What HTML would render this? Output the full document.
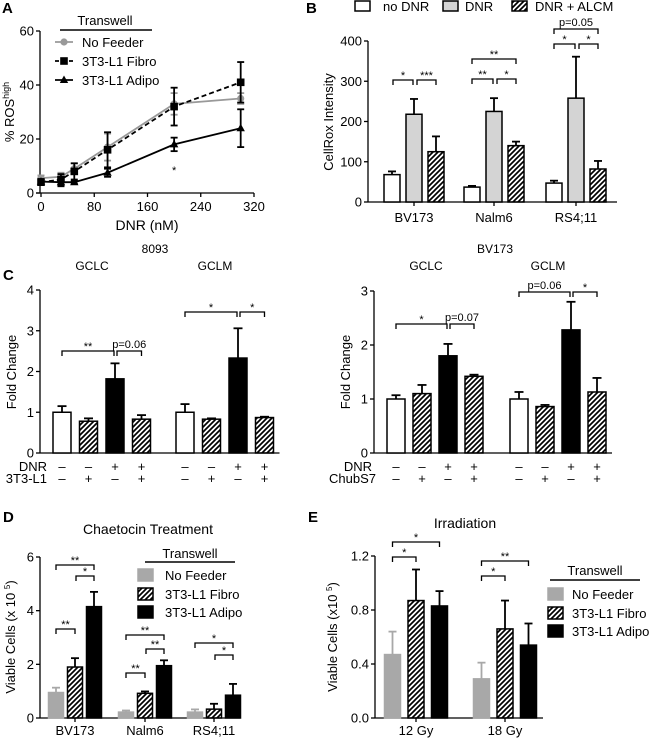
<!DOCTYPE html>
<html><head><meta charset="utf-8"><style>
html,body{margin:0;padding:0;background:#fff;}
svg{display:block;font-family:"Liberation Sans",Arial,sans-serif;}
</style></head><body>
<svg id="fig" width="650" height="739" viewBox="0 0 650 739" xmlns="http://www.w3.org/2000/svg">
<defs>
<pattern id="hatch" patternUnits="userSpaceOnUse" width="5" height="5">
<path d="M-1,1 l2,-2 M0,5 l5,-5 M4,6 l2,-2" stroke="#000" stroke-width="1.7"/>
</pattern>
</defs>
</svg>
<script>
// Panel A data
const aDose=[0,30,50,100,200,300];
const aNoFeeder=[5.5,6,9,17,33,35];
const aNoFeederErr=[1,1.5,2,5,4,2];
const aFibro=[4,5,8,16,32,41];
const aFibroErr=[1,2,3,6.5,7,7.5];
const aAdipo=[4.2,4,4,7.5,18,24];
const aAdipoErr=[1,1.5,0.5,1.5,2.5,7];
const aXTicks=[0,80,160,240,320];
const aYTicks=[0,20,40,60];
// Panel B data
const bCats=["BV173","Nalm6","RS4;11"];
const bNoDNR=[68,37,47];
const bNoDNRErr=[8,3,6];
const bDNR=[218,225,258];
const bDNRErr=[38,33,103];
const bALCM=[125,140,82];
const bALCMErr=[38,10,20];
const bYTicks=[0,100,200,300,400];
// Panel C left
const clGCLC=[1.0,0.78,1.82,0.83];
const clGCLCErr=[0.15,0.07,0.38,0.1];
const clGCLM=[1.0,0.83,2.33,0.87];
const clGCLMErr=[0.2,0.02,0.73,0.02];
const clYTicks=[0,1,2,3,4];
// Panel C right
const crGCLC=[1.0,1.1,1.8,1.42];
const crGCLCErr=[0.07,0.16,0.22,0.03];
const crGCLM=[1.0,0.86,2.28,1.13];
const crGCLMErr=[0.13,0.03,0.52,0.26];
const crYTicks=[0,1,2,3];
// Panel D
const dCats=["BV173","Nalm6","RS4;11"];
const dNoFeeder=[0.95,0.22,0.22];
const dNoFeederErr=[0.18,0.06,0.1];
const dFibro=[1.9,0.92,0.33];
const dFibroErr=[0.33,0.07,0.2];
const dAdipo=[4.15,1.95,0.85];
const dAdipoErr=[0.55,0.2,0.42];
const dYTicks=[0,2,4,6];
// Panel E
const eCats=["12 Gy","18 Gy"];
const eNoFeeder=[0.47,0.29];
const eNoFeederErr=[0.17,0.12];
const eFibro=[0.87,0.66];
const eFibroErr=[0.23,0.21];
const eAdipo=[0.83,0.54];
const eAdipoErr=[0.11,0.16];
const eYTicks=[0,0.4,0.8,1.2];
const eYLabels=["0.0","0.4","0.8","1.2"];

const svg=document.getElementById('fig');
const NS="http://www.w3.org/2000/svg";
function mk(tag,attrs){const e=document.createElementNS(NS,tag);for(const k in attrs)e.setAttribute(k,attrs[k]);svg.appendChild(e);return e;}
function lin(d0,d1,r0,r1){return v=>r0+(v-d0)/(d1-d0)*(r1-r0);}
function txt(x,y,s,size,anchor,name,extra){const t=mk('text',Object.assign({x:x,y:y,'font-size':size,'text-anchor':anchor||'middle',fill:'#000'},extra||{}));t.textContent=s;


return t;}
function line(x1,y1,x2,y2,name,w,col,dash){const l=mk('line',{x1:x1,y1:y1,x2:x2,y2:y2,stroke:col||'#000','stroke-width':w||1.3});if(dash)l.setAttribute('stroke-dasharray',dash);


return l;}
function yAxis(x,ys,ticks,labels,name,top){line(x,ys(ticks[0]),x,ys(ticks[ticks.length-1]),name+'-y-axis');
ticks.forEach((t,i)=>{line(x-4,ys(t),x,ys(t),name+'-y-tick');txt(x-6,ys(t)+4.5,labels?labels[i]:String(t),13,'end',name+'-y-tick-label');});}
function bar(x,w,y0,yv,fill,name){const r=mk('rect',{x:x,y:Math.min(y0,yv),width:w,height:Math.abs(y0-yv),fill:fill,stroke:'#000','stroke-width':1.5});


return r;}
function errUp(cx,yv,ye,w,col,name){line(cx,yv,cx,ye,name,1.8,col);line(cx-w/2,ye,cx+w/2,ye,name+'-cap',1.8,col);}
function bracket(x1,x2,y,label,name){const p=mk('path',{d:`M${x1},${y+5} V${y} H${x2} V${y+5}`,fill:'none',stroke:'#000','stroke-width':1.3});


txt((x1+x2)/2,label.startsWith('p')?y-3:y-1,label,11,'middle',name+'-label');}
function supTitle(x,y,pre,sup,post,name){const t=txt(0,0,pre,13,'middle',name,{transform:`translate(${x},${y}) rotate(-90)`});
 const s=document.createElementNS(NS,'tspan');s.setAttribute('font-size','8');s.setAttribute('dy','-5');s.textContent=sup;t.appendChild(s);
 const p=document.createElementNS(NS,'tspan');p.setAttribute('dy','5');p.textContent=post;t.appendChild(p);return t;}

// ===== Panel A =====
txt(2,13,'A',15,'start','panel-a-label',{'font-weight':'bold'});
const xA=lin(0,320,41,254), yA=lin(0,60,193,31);
yAxis(40,yA,aYTicks,null,'panel-a');
line(36,193,254,193,'panel-a-x-axis');
aXTicks.forEach(t=>{line(xA(t),193,xA(t),197,'panel-a-x-tick');txt(xA(t),211,String(t),13,'middle','panel-a-x-tick-label');});
txt(147,230,'DNR (nM)',14,'middle','panel-a-x-axis-title');
{const t=txt(0,0,'% ROS',13,'middle','panel-a-y-axis-title',{transform:'translate(14,112) rotate(-90)'});const s=document.createElementNS(NS,'tspan');s.setAttribute('font-size','9');s.setAttribute('dy','-5');s.textContent='high';t.appendChild(s);}
function series(vals,errs,col,dash,marker,name){
 const pts=aDose.map((d,i)=>[xA(d),yA(vals[i])]);
 const pl=mk('polyline',{points:pts.map(p=>p.join(',')).join(' '),fill:'none',stroke:col,'stroke-width':1.8});if(dash)pl.setAttribute('stroke-dasharray',dash);
 
 
 aDose.forEach((d,i)=>{const x=xA(d);line(x,yA(vals[i]-errs[i]),x,yA(vals[i]+errs[i]),name+'-error',1.8,col);line(x-3.5,yA(vals[i]+errs[i]),x+3.5,yA(vals[i]+errs[i]),name+'-cap',1.8,col);line(x-3.5,yA(vals[i]-errs[i]),x+3.5,yA(vals[i]-errs[i]),name+'-cap',1.8,col);
  marker(x,yA(vals[i]),name);});
}
function circ(x,y,name){const c=mk('circle',{cx:x,cy:y,r:3.6,fill:'#999'});}
function sq(x,y,name){const c=mk('rect',{x:x-3.8,y:y-3.8,width:7.6,height:7.6,fill:'#000'});}
function tri(x,y,name){const c=mk('polygon',{points:`${x},${y-4.5} ${x-4.2},${y+3} ${x+4.2},${y+3}`,fill:'#000'});}
series(aNoFeeder,aNoFeederErr,'#999',null,circ,'no-feeder');
series(aFibro,aFibroErr,'#000','5,3',sq,'fibro');
series(aAdipo,aAdipoErr,'#000',null,tri,'adipo');
txt(xA(200),174,'*',11,'middle','panel-a-significance');
txt(105,25,'Transwell',13,'middle','panel-a-legend-title');
line(60,30,152,30,'panel-a-legend-rule',1.5);
line(55,42,73,42,'legend-no-feeder-line',1.8,'#999');circ(64,42,'legend-no-feeder');
txt(82,47,'No Feeder',13,'start','legend-no-feeder-label');
line(55,61,73,61,'legend-fibro-line',1.8,'#000','4,3');sq(64,61,'legend-fibro');
txt(82,66,'3T3-L1 Fibro',13,'start','legend-fibro-label');
line(55,80,73,80,'legend-adipo-line',1.8);tri(64,80,'legend-adipo');
txt(82,85,'3T3-L1 Adipo',13,'start','legend-adipo-label');
txt(155,253,'8093',12,'middle','panel-c-left-cell-line');

// ===== Panel B =====
txt(306,13,'B',15,'start','panel-b-label',{'font-weight':'bold'});
const yB=lin(0,400,202,41);
yAxis(368,yB,bYTicks,null,'panel-b');
line(368,202,617,202,'panel-b-x-axis');
const bCenters=[414,494,576];
const bSets=[[bNoDNR,bNoDNRErr,'#fff'],[bDNR,bDNRErr,'#d4d4d4'],[bALCM,bALCMErr,'url(#hatch)']];
const bNames=['no-dnr','dnr','dnr-alcm'];
bCats.forEach((c,g)=>{bSets.forEach((s,k)=>{const cx=bCenters[g]+(k-1)*22;
 errUp(cx,yB(s[0][g]),yB(s[0][g]+s[1][g]),8,'#000','panel-b-error');
 bar(cx-8,16,yB(0),yB(s[0][g]),s[2],'bar-'+bNames[k]+'-'+c.toLowerCase().replace(';',''));});
 line(bCenters[g],202,bCenters[g],206,'panel-b-x-tick');
 txt(bCenters[g],222,c,13,'middle','panel-b-category-label');});
txt(333,122,'CellRox Intensity',13,'middle','panel-b-y-axis-title',{transform:'rotate(-90 333 122)'});
const bx=(g,k)=>bCenters[g]+(k-1)*22;
bracket(bx(0,0)+1,bx(0,1)-1,80,'*','bv173-bracket');bracket(bx(0,1)+3,bx(0,2),80,'***','bv173-bracket');
bracket(bx(1,0),bx(1,2),59,'**','nalm6-bracket');bracket(bx(1,0),bx(1,1)-1,79,'**','nalm6-bracket');bracket(bx(1,1)+3,bx(1,2),79,'*','nalm6-bracket');
bracket(bx(2,0),bx(2,2),29,'p=0.05','rs4-bracket');bracket(bx(2,0),bx(2,1)-1,44,'*','rs4-bracket');bracket(bx(2,1)+3,bx(2,2),44,'*','rs4-bracket');
[['#fff','no DNR',355,383],['#d4d4d4','DNR',443,465],['url(#hatch)','DNR + ALCM',512,535]].forEach((l,i)=>{
 const r=mk('rect',{x:l[2],y:1,width:15,height:10,fill:l[0],stroke:'#000','stroke-width':1.5});
 
 
 txt(l[3],11,l[1],13,'start','panel-b-legend-label');});
txt(495,253,'BV173',12,'middle','panel-c-right-cell-line');

// ===== Panel C common =====
function cPanel(off,yS,ticks,setA,errA,setB,errB,starts,step,lastLabel,pre){
 const x0=off;
 yAxis(x0,yS,ticks,null,pre);
 line(x0,453,starts[1]+3*step+24,453,pre+'-x-axis');
 const fills=['#fff','url(#hatch)','#000','url(#hatch)'];
 const signsD=['–','–','+','+'], signsC=['–','+','–','+'];
 [[setA,errA,'gclc'],[setB,errB,'gclm']].forEach((s,gi)=>{
  s[0].forEach((v,i)=>{const x=starts[gi]+i*step, cx=x+9;
   errUp(cx,yS(v),yS(v+s[1][i]),9,'#000',pre+'-error');
   bar(x,18,yS(0),yS(v),fills[i],pre+'-bar-'+s[2]+'-'+i);
   txt(cx,471,signsD[i],13,'middle',pre+'-dnr-sign');
   txt(cx,483,signsC[i],13,'middle',pre+'-treatment-sign');});
 });
}
txt(3,280,'C',15,'start','panel-c-label',{'font-weight':'bold'});
const yCL=lin(0,4,453,290);
cPanel(40,yCL,clYTicks,clGCLC,clGCLCErr,clGCLM,clGCLMErr,[53,176],26.5,'3T3-L1','panel-c-left');
txt(92,270,'GCLC',12,'middle','panel-c-left-gclc-title');txt(215,270,'GCLM',12,'middle','panel-c-left-gclm-title');
txt(16,372,'Fold Change',13,'middle','panel-c-left-y-axis-title',{transform:'rotate(-90 16 372)'});
txt(47,471,'DNR',13,'end','panel-c-left-dnr-row');txt(47,483,'3T3-L1',13,'end','panel-c-left-3t3-row');
const cxL=(g,i)=>[53,176][g]+i*26.5+9;
bracket(cxL(0,0),cxL(0,2)-1,351,'**','c-left-bracket');bracket(cxL(0,2)+2,cxL(0,3),351,'p=0.06','c-left-bracket');
bracket(cxL(1,0),cxL(1,2)-1,312,'*','c-left-bracket');bracket(cxL(1,2)+2,cxL(1,3),312,'*','c-left-bracket');

const yCR=lin(0,3,453,291);
cPanel(374,yCR,crYTicks,crGCLC,crGCLCErr,crGCLM,crGCLMErr,[387,510],26,'ChubS7','panel-c-right');
txt(426,270,'GCLC',12,'middle','panel-c-right-gclc-title');txt(548,270,'GCLM',12,'middle','panel-c-right-gclm-title');
txt(350,372,'Fold Change',13,'middle','panel-c-right-y-axis-title',{transform:'rotate(-90 350 372)'});
txt(372,471,'DNR',13,'end','panel-c-right-dnr-row');txt(376,483,'ChubS7',13,'end','panel-c-right-chubs7-row');
const cxR=(g,i)=>[387,510][g]+i*26+9;
bracket(cxR(0,0),cxR(0,2)-1,324,'*','c-right-bracket');bracket(cxR(0,2)+2,cxR(0,3),324,'p=0.07','c-right-bracket');
bracket(cxR(1,0),cxR(1,2)-1,292,'p=0.06','c-right-bracket');bracket(cxR(1,2)+2,cxR(1,3),292,'*','c-right-bracket');

// ===== Panel D / E =====
function groupPanel(ys,cats,centers,step,w,sets,pre,axEnd,x0){
 line(x0,718,axEnd,718,pre+'-x-axis');
 const fills=['#a8a8a8','url(#hatch)','#000'];
 cats.forEach((c,g)=>{sets.forEach((s,k)=>{const cx=centers[g]+(k-1)*step;
  errUp(cx,ys(s[0][g]),ys(s[0][g]+s[1][g]),8,k===0?'#a8a8a8':'#000',pre+'-error');
  const r=bar(cx-w/2,w,ys(0),ys(s[0][g]),fills[k],pre+'-bar-'+k+'-'+g);if(k===0)r.setAttribute('stroke','#a8a8a8');});
  line(centers[g],718,centers[g],722,pre+'-x-tick');
  txt(centers[g],735,c,13,'middle',pre+'-category-label');});
}
function swLegend(x,tx,ys,pre){['#a8a8a8','url(#hatch)','#000'].forEach((f,i)=>{const r=mk('rect',{x:x,y:ys[i]-6,width:15,height:12,fill:f,stroke:i===0?'#a8a8a8':'#000','stroke-width':1.5});
 
 });
 txt(tx,ys[0]+5,'No Feeder',13,'start',pre+'-legend-no-feeder');txt(tx,ys[1]+5,'3T3-L1 Fibro',13,'start',pre+'-legend-fibro');txt(tx,ys[2]+5,'3T3-L1 Adipo',13,'start',pre+'-legend-adipo');}

txt(3,522,'D',15,'start','panel-d-label',{'font-weight':'bold'});
const yD=lin(0,6,718,557);
yAxis(40,yD,dYTicks,null,'panel-d');
groupPanel(yD,dCats,[75,145,214],19,15,[[dNoFeeder,dNoFeederErr],[dFibro,dFibroErr],[dAdipo,dAdipoErr]],'panel-d',240,40);
txt(148,534,'Chaetocin Treatment',14,'middle','panel-d-title');
supTitle(15,637,'Viable Cells (x 10 ','5',')','panel-d-y-axis-title');
txt(190,558,'Transwell',13,'middle','panel-d-legend-title');line(145,562,235,562,'panel-d-legend-rule',1.5);
swLegend(138,165,[575,594,612],'panel-d');
const dx=(g,k)=>[75,145,214][g]+(k-1)*19;
bracket(dx(0,0),dx(0,2),565,'**','d-bracket');bracket(dx(0,1)+1,dx(0,2),576,'*','d-bracket');bracket(dx(0,0),dx(0,1),629,'**','d-bracket');
bracket(dx(1,0),dx(1,2),635,'**','d-bracket');bracket(dx(1,1)+1,dx(1,2),649,'**','d-bracket');bracket(dx(1,0),dx(1,1),673,'**','d-bracket');
bracket(dx(2,0),dx(2,2),643,'*','d-bracket');bracket(dx(2,1)+1,dx(2,2),655,'*','d-bracket');

txt(308,522,'E',15,'start','panel-e-label',{'font-weight':'bold'});
const yE=lin(0,1.2,718,556);
yAxis(375,yE,eYTicks,eYLabels,'panel-e');
groupPanel(yE,eCats,[416,505],23.5,16,[[eNoFeeder,eNoFeederErr],[eFibro,eFibroErr],[eAdipo,eAdipoErr]],'panel-e',543,375);
txt(465,528,'Irradiation',14,'middle','panel-e-title');
supTitle(337,637,'Viable Cells  (x10 ','5',')','panel-e-y-axis-title');
txt(595,575,'Transwell',13,'middle','panel-e-legend-title');line(550,580,640,580,'panel-e-legend-rule',1.5);
swLegend(548,572,[594,613,631],'panel-e');
const ex=(g,k)=>[416,505][g]+(k-1)*23.5;
bracket(ex(0,0),ex(0,2),542,'*','e-bracket');bracket(ex(0,0),ex(0,1),557,'*','e-bracket');
bracket(ex(1,0),ex(1,2),561,'**','e-bracket');bracket(ex(1,0),ex(1,1),576,'*','e-bracket');
</script>
</body></html>
